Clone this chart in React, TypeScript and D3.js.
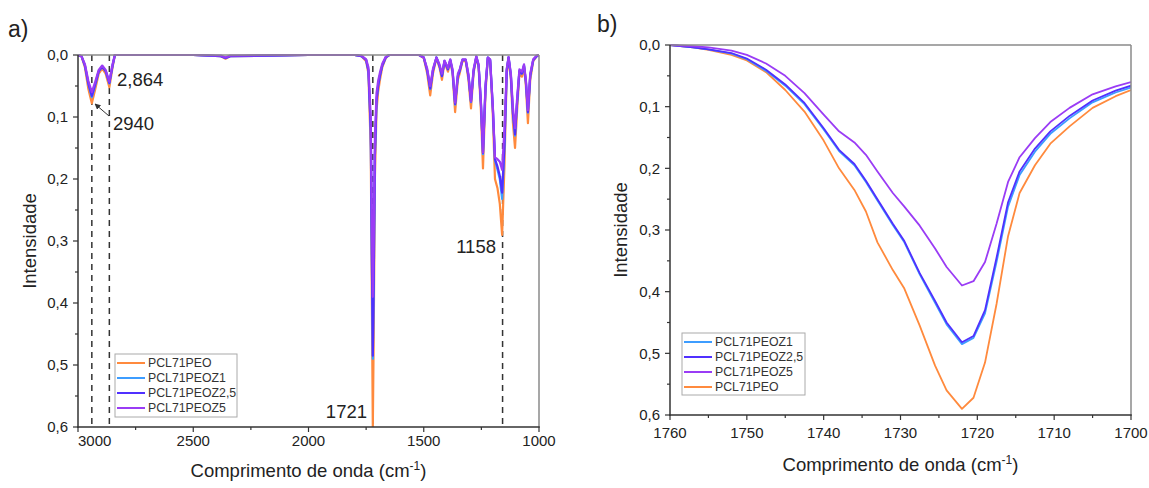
import React from "react";
import * as d3 from "d3";

// ---------- Data: panel a) full spectrum ----------
const leftWave = [3000, 2985, 2970, 2955, 2940, 2925, 2910, 2895, 2880, 2864, 2850, 2840, 2500, 2380, 2360, 2340, 2000, 1800, 1770, 1750, 1740, 1730, 1725, 1721, 1717, 1712, 1705, 1698, 1690, 1680, 1665, 1650, 1520, 1500, 1485, 1472, 1460, 1445, 1432, 1421, 1410, 1395, 1385, 1375, 1364, 1352, 1343, 1332, 1318, 1306, 1295, 1284, 1272, 1262, 1252, 1243, 1232, 1222, 1212, 1200, 1191, 1180, 1170, 1160, 1150, 1140, 1132, 1122, 1113, 1104, 1095, 1085, 1074, 1065, 1057, 1048, 1038, 1025, 1010, 1000];
const leftPEO = [0, 0.002, 0.02, 0.055, 0.078, 0.055, 0.03, 0.022, 0.03, 0.052, 0.02, 0, 0, 0.002, 0.006, 0.002, 0, 0, 0.002, 0.01, 0.03, 0.15, 0.4, 0.6, 0.45, 0.2, 0.09, 0.06, 0.04, 0.02, 0.005, 0, 0, 0.005, 0.03, 0.065, 0.03, 0.005, 0.02, 0.04, 0.012, 0.027, 0.01, 0.03, 0.092, 0.04, 0.028, 0.01, 0.01, 0.04, 0.086, 0.03, 0.003, 0.02, 0.09, 0.183, 0.06, 0.005, 0.01, 0.1, 0.2, 0.215, 0.24, 0.29, 0.18, 0.03, 0.005, 0.04, 0.11, 0.15, 0.09, 0.03, 0.035, 0.02, 0.05, 0.11, 0.04, 0.01, 0.002, 0];
const leftZ1 = [0, 0.002, 0.017, 0.047, 0.068, 0.048, 0.026, 0.019, 0.026, 0.046, 0.017, 0, 0, 0.002, 0.005, 0.002, 0, 0, 0.002, 0.008, 0.025, 0.12, 0.33, 0.49, 0.37, 0.165, 0.075, 0.05, 0.033, 0.017, 0.004, 0, 0, 0.004, 0.025, 0.055, 0.025, 0.004, 0.017, 0.034, 0.01, 0.023, 0.008, 0.026, 0.08, 0.034, 0.024, 0.008, 0.008, 0.034, 0.076, 0.026, 0.003, 0.017, 0.078, 0.16, 0.052, 0.004, 0.008, 0.088, 0.17, 0.185, 0.2, 0.232, 0.15, 0.025, 0.004, 0.034, 0.095, 0.13, 0.077, 0.026, 0.03, 0.017, 0.043, 0.093, 0.034, 0.008, 0.002, 0];
const leftZ25 = [0, 0.002, 0.017, 0.046, 0.066, 0.047, 0.026, 0.019, 0.026, 0.045, 0.017, 0, 0, 0.002, 0.005, 0.002, 0, 0, 0.002, 0.008, 0.025, 0.12, 0.33, 0.485, 0.365, 0.163, 0.074, 0.05, 0.033, 0.017, 0.004, 0, 0, 0.004, 0.025, 0.054, 0.025, 0.004, 0.017, 0.034, 0.01, 0.023, 0.008, 0.026, 0.079, 0.034, 0.024, 0.008, 0.008, 0.034, 0.075, 0.026, 0.003, 0.017, 0.077, 0.158, 0.052, 0.004, 0.008, 0.087, 0.168, 0.18, 0.195, 0.222, 0.145, 0.025, 0.004, 0.033, 0.094, 0.128, 0.076, 0.026, 0.03, 0.017, 0.042, 0.092, 0.033, 0.008, 0.002, 0];
const leftZ5 = [0, 0.002, 0.015, 0.042, 0.06, 0.043, 0.024, 0.017, 0.024, 0.043, 0.015, 0, 0, 0.001, 0.004, 0.001, 0, 0, 0.001, 0.007, 0.02, 0.1, 0.27, 0.39, 0.3, 0.135, 0.062, 0.042, 0.028, 0.014, 0.003, 0, 0, 0.004, 0.022, 0.05, 0.022, 0.004, 0.015, 0.03, 0.009, 0.021, 0.007, 0.023, 0.077, 0.03, 0.022, 0.007, 0.007, 0.031, 0.075, 0.023, 0.002, 0.015, 0.075, 0.157, 0.048, 0.004, 0.007, 0.085, 0.165, 0.168, 0.172, 0.185, 0.12, 0.022, 0.003, 0.03, 0.085, 0.118, 0.07, 0.023, 0.027, 0.015, 0.04, 0.089, 0.03, 0.007, 0.001, 0];

// ---------- Data: panel b) carbonyl region ----------
const rightWave = [1760, 1757, 1755, 1752, 1750, 1747.5, 1745, 1742.5, 1740, 1738, 1736, 1734.5, 1733, 1731, 1729.5, 1727.5, 1725.5, 1724, 1722, 1720.5, 1719, 1717.5, 1716, 1714.5, 1712.5, 1710.5, 1708, 1705, 1702, 1700];
const rightPEO = [0, 0.004, 0.008, 0.016, 0.025, 0.044, 0.073, 0.108, 0.155, 0.2, 0.235, 0.27, 0.32, 0.365, 0.395, 0.455, 0.52, 0.56, 0.59, 0.572, 0.515, 0.42, 0.31, 0.24, 0.195, 0.16, 0.132, 0.102, 0.083, 0.073];
const rightZ1 = [0, 0.004, 0.007, 0.014, 0.023, 0.042, 0.066, 0.096, 0.137, 0.172, 0.195, 0.222, 0.252, 0.292, 0.32, 0.372, 0.418, 0.453, 0.485, 0.475, 0.435, 0.352, 0.262, 0.211, 0.173, 0.144, 0.119, 0.093, 0.077, 0.069];
const rightZ25 = [0, 0.004, 0.007, 0.013, 0.022, 0.04, 0.064, 0.094, 0.135, 0.17, 0.193, 0.22, 0.25, 0.29, 0.318, 0.37, 0.415, 0.45, 0.482, 0.472, 0.43, 0.345, 0.255, 0.205, 0.168, 0.14, 0.115, 0.09, 0.074, 0.066];
const rightZ5 = [0, 0.002, 0.004, 0.009, 0.016, 0.03, 0.05, 0.078, 0.113, 0.14, 0.158, 0.178, 0.205, 0.24, 0.262, 0.293, 0.33, 0.36, 0.39, 0.383, 0.352, 0.29, 0.222, 0.182, 0.151, 0.125, 0.102, 0.08, 0.067, 0.06];

// ---------- Ticks / labels ----------
const leftXTicks = [3000, 2500, 2000, 1500, 1000];
const leftXMinor = [2750, 2250, 1750, 1250];
const rightXTicks = [1760, 1750, 1740, 1730, 1720, 1710, 1700];
const rightXMinor = [1755, 1745, 1735, 1725, 1715, 1705];
const yTicks = [0, 0.1, 0.2, 0.3, 0.4, 0.5, 0.6];
const yMinor = [0.05, 0.15, 0.25, 0.35, 0.45, 0.55];
const dashedLines = [2940, 2864, 1721, 1158];

const COLORS: Record<string, string> = {
  PCL71PEO: "#ff8a3d",
  PCL71PEOZ1: "#3d9dff",
  "PCL71PEOZ2,5": "#5030ff",
  PCL71PEOZ5: "#9a3cf5",
};

const FONT = "'Liberation Sans', Arial, sans-serif";
const fmt = (v: number) => d3.format(".1f")(v).replace(".", ",");

type Series = { name: string; values: number[] };

function Panel(props: {
  id: string;
  x: d3.ScaleLinear<number, number>;
  y: d3.ScaleLinear<number, number>;
  wave: number[];
  series: Series[];
  xTicks: number[];
  xMinor: number[];
  legend: string[];
  legendBox: { x: number; y: number; w: number; h: number; rowH: number };
  strokeW: number;
  yTitleX: number;
  xTitleY: number;
  xLabelY: number;
  firstLabelStart: boolean;
}) {
  const { id, x, y, wave, series, xTicks, xMinor, legend, legendBox, strokeW } = props;
  const [x0, x1] = x.range();
  const [y0, y1] = y.range();
  const line = (vals: number[]) =>
    d3
      .line<number>()
      .x((_, i) => x(wave[i]))
      .y((v) => y(v))(vals) || "";
  return (
    <g>
      <defs>
        <clipPath id={id}>
          <rect x={x0} y={y0 - 1} width={x1 - x0} height={y1 - y0 + 1} />
        </clipPath>
      </defs>
      <g clipPath={`url(#${id})`}>
        {series.map((s) => (
          <path
            key={s.name}
            d={line(s.values)}
            fill="none"
            stroke={COLORS[s.name]}
            strokeWidth={strokeW}
            strokeLinejoin="round"
          />
        ))}
      </g>
      {/* frame */}
      <line x1={x0} x2={x1} y1={y0} y2={y0} stroke="#8a8a8a" strokeWidth={1.5} />
      <line x1={x1} x2={x1} y1={y0} y2={y1} stroke="#8a8a8a" strokeWidth={1.5} />
      <line x1={x0} x2={x0} y1={y0} y2={y1 + 0.75} stroke="#333" strokeWidth={1.5} />
      <line x1={x0 - 0.75} x2={x1 + 0.75} y1={y1} y2={y1} stroke="#333" strokeWidth={1.5} />
      {/* y ticks */}
      {yTicks.map((t) => (
        <g key={"y" + t}>
          <line x1={x0 - 5} x2={x0} y1={y(t)} y2={y(t)} stroke="#333" strokeWidth={1.2} />
          <text x={x0 - 10} y={y(t)} dy="0.35em" textAnchor="end" fontSize={15} fontFamily={FONT} fill="#222">
            {fmt(t)}
          </text>
        </g>
      ))}
      {yMinor.map((t) => (
        <line key={"ym" + t} x1={x0 - 3} x2={x0} y1={y(t)} y2={y(t)} stroke="#333" strokeWidth={1.2} />
      ))}
      {/* x ticks */}
      {xTicks.map((t, i) => (
        <g key={"x" + t}>
          <line x1={x(t)} x2={x(t)} y1={y1} y2={y1 + 5} stroke="#333" strokeWidth={1.2} />
          <text
            x={x(t)}
            y={props.xLabelY}
            textAnchor={props.firstLabelStart && i === 0 ? "start" : "middle"}
            fontSize={15}
            fontFamily={FONT}
            fill="#222"
          >
            {t}
          </text>
        </g>
      ))}
      {xMinor.map((t) => (
        <line key={"xm" + t} x1={x(t)} x2={x(t)} y1={y1} y2={y1 + 3} stroke="#333" strokeWidth={1.2} />
      ))}
      {/* axis titles */}
      <text
        transform={`translate(${props.yTitleX},${(y0 + y1) / 2}) rotate(-90)`}
        textAnchor="middle"
        fontSize={18.5}
        fontFamily={FONT}
        fill="#222"
      >
        Intensidade
      </text>
      <text x={(x0 + x1) / 2} y={props.xTitleY} textAnchor="middle" fontSize={18.5} fontFamily={FONT} fill="#222">
        Comprimento de onda (cm
        <tspan dy={-7} fontSize={12}>-1</tspan>
        <tspan dy={7}>)</tspan>
      </text>
      {/* legend */}
      <rect
        x={legendBox.x}
        y={legendBox.y}
        width={legendBox.w}
        height={legendBox.h}
        fill="#fff"
        stroke="#aaa"
        strokeWidth={1}
      />
      {legend.map((name, i) => {
        const cy = legendBox.y + 9 + i * legendBox.rowH;
        return (
          <g key={name}>
            <line
              x1={legendBox.x + 2}
              x2={legendBox.x + 30}
              y1={cy}
              y2={cy}
              stroke={COLORS[name]}
              strokeWidth={2}
            />
            <text x={legendBox.x + 33} y={cy} dy="0.35em" fontSize={12.3} fontFamily={FONT} fill="#333">
              {name}
            </text>
          </g>
        );
      })}
    </g>
  );
}

export default function App() {
  const xL = d3.scaleLinear().domain([3000, 1000]).range([78, 539]);
  const yL = d3.scaleLinear().domain([0, 0.6]).range([55, 427]);
  const xR = d3.scaleLinear().domain([1760, 1700]).range([670, 1131]);
  const yR = d3.scaleLinear().domain([0, 0.6]).range([45, 415]);

  const leftSeries: Series[] = [
    { name: "PCL71PEO", values: leftPEO },
    { name: "PCL71PEOZ1", values: leftZ1 },
    { name: "PCL71PEOZ2,5", values: leftZ25 },
    { name: "PCL71PEOZ5", values: leftZ5 },
  ];
  const rightSeries: Series[] = [
    { name: "PCL71PEO", values: rightPEO },
    { name: "PCL71PEOZ1", values: rightZ1 },
    { name: "PCL71PEOZ2,5", values: rightZ25 },
    { name: "PCL71PEOZ5", values: rightZ5 },
  ];

  return (
    <svg
      width={1149}
      height={488}
      style={{ position: "absolute", left: 0, top: 0, background: "#fff" }}
    >
      <rect width={1149} height={488} fill="#fff" />
      {/* dashed reference lines in panel a */}
      {dashedLines.map((w) => (
        <line
          key={"d" + w}
          x1={xL(w)}
          x2={xL(w)}
          y1={yL(0)}
          y2={yL(0.6)}
          stroke="#333"
          strokeWidth={1.5}
          strokeDasharray="6,5"
        />
      ))}
      <Panel
        id="clipA"
        x={xL}
        y={yL}
        wave={leftWave}
        series={leftSeries}
        xTicks={leftXTicks}
        xMinor={leftXMinor}
        legend={["PCL71PEO", "PCL71PEOZ1", "PCL71PEOZ2,5", "PCL71PEOZ5"]}
        legendBox={{ x: 115, y: 354, w: 122, h: 63, rowH: 15 }}
        strokeW={2.2}
        yTitleX={36}
        xTitleY={477}
        xLabelY={446}
        firstLabelStart={true}
      />
      <Panel
        id="clipB"
        x={xR}
        y={yR}
        wave={rightWave}
        series={rightSeries}
        xTicks={rightXTicks}
        xMinor={rightXMinor}
        legend={["PCL71PEOZ1", "PCL71PEOZ2,5", "PCL71PEOZ5", "PCL71PEO"]}
        legendBox={{ x: 682, y: 333, w: 123, h: 62, rowH: 15 }}
        strokeW={1.8}
        yTitleX={627}
        xTitleY={471}
        xLabelY={438}
        firstLabelStart={false}
      />
      {/* annotations panel a */}
      <text x={117} y={80} dy="0.35em" fontSize={18.5} fontFamily={FONT} fill="#222">2,864</text>
      <text x={113} y={124} dy="0.35em" fontSize={18.5} fontFamily={FONT} fill="#222">2940</text>
      <defs>
        <marker id="arrowHead" viewBox="0 0 10 10" refX={9} refY={5} markerWidth={6} markerHeight={6} orient="auto">
          <path d="M0,0 L10,5 L0,10 z" fill="#333" />
        </marker>
      </defs>
      <line x1={109} y1={116} x2={95} y2={104} stroke="#333" strokeWidth={1} markerEnd="url(#arrowHead)" />
      <text x={496} y={247} dy="0.35em" textAnchor="end" fontSize={18.5} fontFamily={FONT} fill="#222">1158</text>
      <text x={367} y={412} dy="0.35em" textAnchor="end" fontSize={18.5} fontFamily={FONT} fill="#222">1721</text>
      {/* panel letters */}
      <text x={8} y={37} fontSize={23} fontFamily={FONT} fill="#222">a)</text>
      <text x={597} y={32} fontSize={23} fontFamily={FONT} fill="#222">b)</text>
    </svg>
  );
}
